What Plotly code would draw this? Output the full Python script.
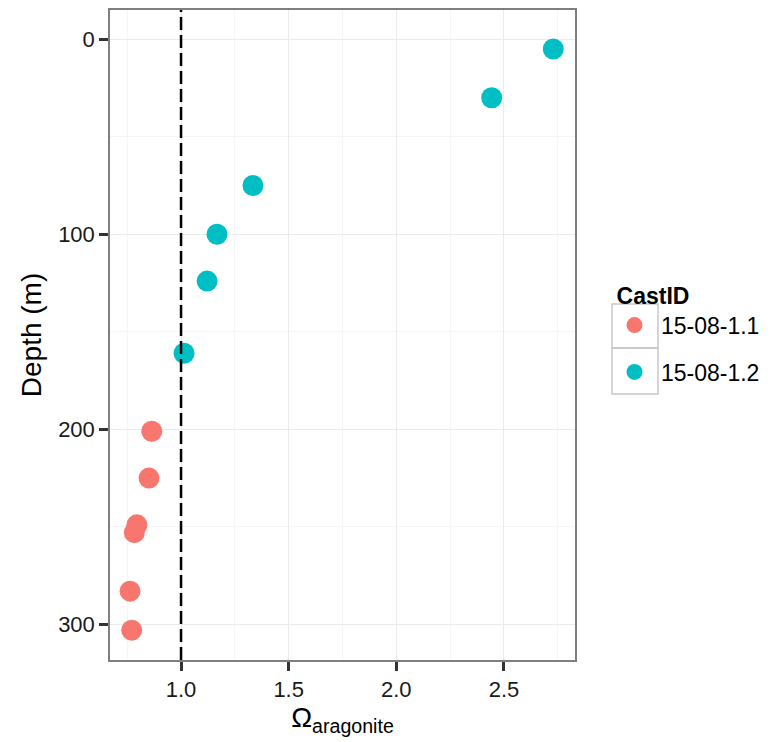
import plotly.graph_objects as go

cast_ids = ["15-08-1.1", "15-08-1.2"]
omega_11 = [0.864, 0.851, 0.795, 0.783, 0.763, 0.771]
depth_11 = [201, 225, 249, 253, 283, 303]
omega_12 = [2.729, 2.443, 1.334, 1.167, 1.121, 1.014]
depth_12 = [5, 30, 75, 100, 124, 161]
colors = ["#F8766D", "#00BFC4"]

fig = go.Figure()
for i, (name, xs, ys, c) in enumerate([(cast_ids[0], omega_11, depth_11, colors[0]),
                                       (cast_ids[1], omega_12, depth_12, colors[1])]):
    fig.add_trace(go.Scatter(x=xs, y=ys, mode="markers", name="\u00a0" + name,
                             legendgroup=f"g{i}",
                             marker=dict(size=21, color=c, line=dict(width=0))))

fig.add_shape(type="line", x0=1, x1=1, xref="x", y0=0, y1=1, yref="paper",
              line=dict(color="black", width=2.5, dash="13px,5px"))

# legend key boxes (ggplot-style legend.key borders)
for y0, y1 in [(0.480, 0.5477), (0.4092, 0.480)]:
    fig.add_shape(type="rect", xref="paper", yref="paper", x0=1.0796, x1=1.1785,
                  y0=y0, y1=y1, line=dict(color="#C8C8C8", width=1.5),
                  fillcolor="rgba(0,0,0,0)", layer="below")

font_family = "Liberation Sans, Arial, sans-serif"
fig.update_layout(
    width=775, height=742,
    margin=dict(l=110, r=200, t=10, b=82, autoexpand=False),
    plot_bgcolor="white", paper_bgcolor="white",
    font=dict(family=font_family, color="black"),
    showlegend=True,
    legend=dict(title=dict(text="<b>CastID</b>", font=dict(size=23)),
                font=dict(size=23), x=1.085, y=0.502, yanchor="middle", xanchor="left",
                bordercolor="rgba(0,0,0,0)", bgcolor="rgba(0,0,0,0)", itemsizing="trace",
                traceorder="grouped", tracegroupgap=14),
    xaxis=dict(range=[0.670, 2.830], tickvals=[1.0, 1.5, 2.0, 2.5],
               ticktext=["1.0", "1.5", "2.0", "2.5"],
               showgrid=True, gridcolor="#EBEBEB", gridwidth=1,
               minor=dict(tickvals=[0.75, 1.25, 1.75, 2.25, 2.75], showgrid=True,
                          gridcolor="#F5F5F5", gridwidth=1, ticks=""),
               ticks="outside", ticklen=9, tickwidth=2.5, tickcolor="#333333",
               showline=True, linecolor="#7F7F7F", linewidth=1.5, mirror=True,
               zeroline=False, tickfont=dict(size=22, color="#1a1a1a"),
               title=dict(text="Ω<sub>aragonite</sub>", font=dict(size=28), standoff=2)),
    yaxis=dict(range=[318.3, -15.0], tickvals=[0, 100, 200, 300],
               showgrid=True, gridcolor="#EBEBEB", gridwidth=1,
               minor=dict(tickvals=[50, 150, 250], showgrid=True,
                          gridcolor="#F5F5F5", gridwidth=1, ticks=""),
               ticks="outside", ticklen=9, tickwidth=2.5, tickcolor="#333333",
               showline=True, linecolor="#7F7F7F", linewidth=1.5, mirror=True,
               zeroline=False, tickfont=dict(size=22, color="#1a1a1a"),
               title=dict(text="Depth (m)", font=dict(size=28), standoff=8)),
)

fig.write_html("out.html")
